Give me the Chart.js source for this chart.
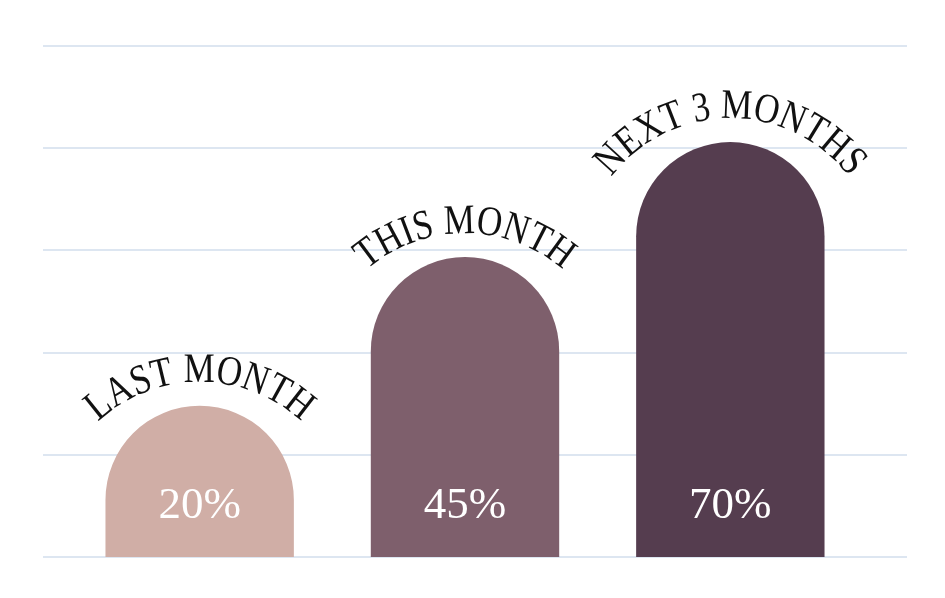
<!DOCTYPE html>
<html>
<head>
<meta charset="utf-8">
<script src="https://cdn.jsdelivr.net/npm/chart.js@4"></script>
<style>
  html, body { margin: 0; padding: 0; background: #fff; }
  #wrap { width: 945px; height: 598px; }
</style>
</head>
<body>
<div id="wrap"><canvas id="chart"></canvas></div>
<script>
// data
const categories = ["LAST MONTH", "THIS MONTH", "NEXT 3 MONTHS"];
const percentLabels = ["20%", "45%", "70%"];
const barHeights = [29.6, 58.7, 81.2]; // on the 0-100 grid scale
const barColors = ["#d0aea6", "#7e5f6c", "#553d4f"];
const gridTicks = [0, 20, 40, 60, 80, 100];

// full-width horizontal grid lines (they run past the bar area)
const fullGrid = {
    id: "fullGrid",
    beforeDatasetsDraw(chart, args, opts) {
        const ctx = chart.ctx;
        const y = chart.scales.y;
        ctx.save();
        ctx.strokeStyle = opts.color;
        ctx.lineWidth = opts.width;
        for (const t of gridTicks) {
            const py = Math.round(y.getPixelForValue(t));
            ctx.beginPath();
            ctx.moveTo(opts.left, py);
            ctx.lineTo(opts.right, py);
            ctx.stroke();
        }
        ctx.restore();
    }
};

function drawArcText(ctx, text, cx, cy, r, sx) {
    const total = ctx.measureText(text).width * sx;
    let acc = 0;
    const start = -total / 2;
    for (const ch of text) {
        const w = ctx.measureText(ch).width * sx;
        const a = (start + acc + w / 2) / r;
        ctx.save();
        ctx.translate(cx, cy);
        ctx.rotate(a);
        ctx.translate(0, -r);
        ctx.scale(sx, 1);
        ctx.fillText(ch, 0, 0);
        ctx.restore();
        acc += w;
    }
}

const barLabels = {
    id: "barLabels",
    afterDatasetsDraw(chart, args, opts) {
        const ctx = chart.ctx;
        const meta = chart.getDatasetMeta(0);
        ctx.save();
        meta.data.forEach((bar, i) => {
            const half = bar.width / 2;
            // category name bent over the rounded top
            ctx.font = opts.arcFont;
            ctx.fillStyle = "#111111";
            ctx.textAlign = "center";
            ctx.textBaseline = "alphabetic";
            drawArcText(ctx, categories[i], bar.x, bar.y + half + opts.arcDrop, opts.arcRadius, opts.arcScaleX);
            // percentage inside the bar
            ctx.font = opts.valueFont;
            ctx.fillStyle = "#ffffff";
            ctx.fillText(percentLabels[i], bar.x, chart.chartArea.bottom - opts.valueLift);
        });
        ctx.restore();
    }
};

const ctx = document.getElementById("chart").getContext("2d");
new Chart(ctx, {
    type: "bar",
    data: {
        labels: categories,
        datasets: [
            {
                data: barHeights,
                base: -40, // starts below the clipped area so the top stays a full half circle
                backgroundColor: barColors,
                borderSkipped: "start",
                borderRadius: { topLeft: 999, topRight: 999, bottomLeft: 0, bottomRight: 0 },
                barPercentage: 0.71,
                categoryPercentage: 1
            }
        ]
    },
    options: {
        responsive: true,
        maintainAspectRatio: false,
        animation: false,
        layout: { padding: { left: 67, right: 82, top: 46, bottom: 41 } },
        scales: {
            x: { display: false },
            y: { display: false, min: 0, max: 100 }
        },
        plugins: {
            legend: { display: false },
            tooltip: { enabled: false },
            fullGrid: { left: 43, right: 907, color: "#dde6f1", width: 2 },
            barLabels: {
                arcFont: "42px 'Liberation Serif'",
                arcScaleX: 0.83,
                valueFont: "45px 'Liberation Serif'",
                arcRadius: 150,
                arcDrop: 32,
                valueLift: 39
            }
        }
    },
    plugins: [fullGrid, barLabels]
});
</script>
</body>
</html>
